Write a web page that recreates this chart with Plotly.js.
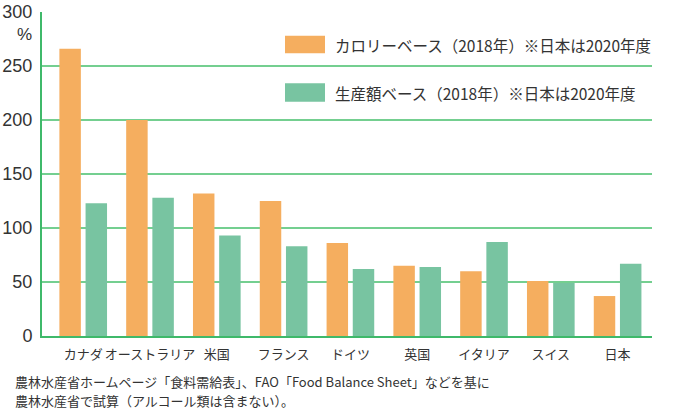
<!DOCTYPE html>
<html>
<head>
<meta charset="utf-8">
<script src="https://cdn.plot.ly/plotly-3.0.1.min.js"></script>
<style>html,body{margin:0;padding:0;background:#fff;}#chart{width:683px;height:416px;}</style>
</head>
<body>
<div id="chart"></div>
<script>
const categories = ['カナダ','オーストラリア','米国','フランス','ドイツ','英国','イタリア','スイス','日本'];
const calorieValues = [266, 200, 132, 125, 86, 65, 60, 51, 37];
const productionValues = [123, 128, 93, 83, 62, 64, 87, 49, 67];
const seriesNames = ['カロリーベース（2018年）※日本は2020年度', '生産額ベース（2018年）※日本は2020年度'];
const yTicks = [0, 50, 100, 150, 200, 250, 300];
const unitLabel = '%';
const sourceLines = ['農林水産省ホームページ「食料需給表」、FAO「Food Balance Sheet」などを基に', '農林水産省で試算（アルコール類は含まない）。'];

const ORANGE = '#F5AE5F';
const GREEN = '#78C4A1';
const GRID = '#74CF90';
const AXIS = '#3FB96A';
const TEXT = '#333333';
const FONT = 'Liberation Sans, Noto Sans CJK JP, sans-serif';
const JFONT = 'Noto Sans CJK JP, sans-serif';

const traces = [
  {type:'bar', name: seriesNames[0], x: categories, y: calorieValues, marker:{color: ORANGE}, showlegend:false, hoverinfo:'skip'},
  {type:'bar', name: seriesNames[1], x: categories, y: productionValues, marker:{color: GREEN}, showlegend:false, hoverinfo:'skip'}
];

const W = 683, H = 416, L = 42, R = 31, T = 12, B = 80;
const pw = W - L - R, ph = H - T - B;
const px = v => (v - L) / pw;
const py = v => (H - B - v) / ph;

const layout = {
  width: W, height: H,
  margin: {l: L, r: R, t: T, b: B, pad: 0},
  paper_bgcolor: '#fff', plot_bgcolor: '#fff',
  barmode: 'group', bargap: 0.216, bargroupgap: 0.18,
  font: {family: FONT, color: TEXT},
  xaxis: {
    type: 'category', range: [-0.617, 8.515],
    showgrid: false, zeroline: false,
    showline: true, linecolor: AXIS, linewidth: 2,
    ticks: 'outside', ticklen: 5, tickcolor: 'rgba(0,0,0,0)',
    tickfont: {family: JFONT, size: 13, color: TEXT}
  },
  yaxis: {
    range: [0, 300], tickvals: yTicks, ticktext: yTicks.map(String),
    showgrid: true, gridcolor: GRID, gridwidth: 1.6,
    zeroline: false,
    showline: true, linecolor: AXIS, linewidth: 2,
    ticks: 'outside', ticklen: 4, tickcolor: 'rgba(0,0,0,0)',
    tickfont: {family: FONT, size: 18, color: TEXT}
  },
  shapes: [
    {type:'rect', xref:'paper', yref:'paper', x0: px(285), x1: px(325), y0: py(53.3), y1: py(35.7), fillcolor: ORANGE, line:{width:0}},
    {type:'rect', xref:'paper', yref:'paper', x0: px(285), x1: px(325), y0: py(101.7), y1: py(83.3), fillcolor: GREEN, line:{width:0}}
  ],
  annotations: [
    {xref:'paper', yref:'paper', x: px(333), y: py(44.5), xanchor:'left', yanchor:'middle', showarrow:false, text: seriesNames[0], font:{family: JFONT, size: 15.5, color: TEXT}},
    {xref:'paper', yref:'paper', x: px(333), y: py(92.5), xanchor:'left', yanchor:'middle', showarrow:false, text: seriesNames[1], font:{family: JFONT, size: 15.5, color: TEXT}},
    {xref:'paper', yref:'paper', x: px(34), y: py(35), xanchor:'right', yanchor:'middle', showarrow:false, text: unitLabel, font:{family: FONT, size: 17, color: TEXT}},
    {xref:'paper', yref:'paper', x: px(13), y: py(381.7), xanchor:'left', yanchor:'middle', showarrow:false, text: sourceLines[0], font:{family: JFONT, size: 13, color: TEXT}},
    {xref:'paper', yref:'paper', x: px(13), y: py(400.5), xanchor:'left', yanchor:'middle', showarrow:false, text: sourceLines[1], font:{family: JFONT, size: 13, color: TEXT}}
  ]
};

Plotly.newPlot('chart', traces, layout, {staticPlot: true, displayModeBar: false});
</script>
</body>
</html>
